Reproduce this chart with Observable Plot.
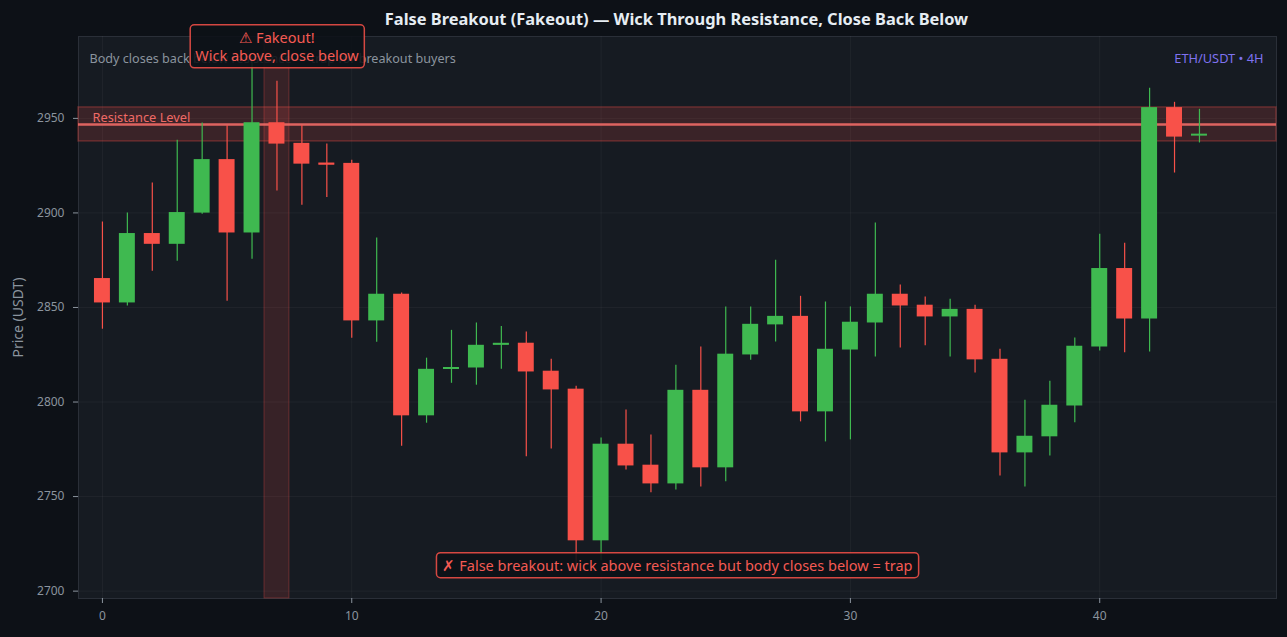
<!DOCTYPE html>
<html>
<head>
<meta charset="utf-8">
<script src="https://cdn.jsdelivr.net/npm/d3@7"></script>
<script src="https://cdn.jsdelivr.net/npm/@observablehq/plot@0.6"></script>
<style>
html, body { margin: 0; padding: 0; background: #0d1117; }
#wrap { position: relative; width: 1287px; height: 637px; overflow: hidden; font-family: "Noto Sans", sans-serif; }
#title { position: absolute; left: 78px; width: 1197px; top: 7px; line-height: 24px; text-align: center; color: #e6edf3; font-size: 16.4px; font-weight: bold; z-index: 2; }
#chart { position: absolute; left: 0; top: 0; }
</style>
</head>
<body>
<div id="wrap">
  <div id="title">False Breakout (Fakeout) — Wick Through Resistance, Close Back Below</div>
  <div id="chart"></div>
</div>
<script>
// ---- Data ----
const opens  = [2865.3, 2852.4, 2889.1, 2883.4, 2899.9, 2928.2, 2889.4, 2947.7, 2936.8, 2926.3,
                2926.2, 2842.9, 2857.0, 2792.7, 2817.2, 2818.0, 2830.2, 2831.1, 2816.3, 2806.8,
                2726.6, 2777.7, 2766.6, 2756.7, 2806.2, 2765.2, 2824.9, 2840.8, 2845.3, 2794.8,
                2827.5, 2841.8, 2857.0, 2851.2, 2845.0, 2849.0, 2822.6, 2773.1, 2781.6, 2797.9,
                2829.1, 2870.6, 2843.9, 2955.7, 2941.0];
const highs  = [2895.2, 2899.9, 2915.8, 2938.4, 2947.5, 2946.3, 2980.0, 2969.6, 2946.3, 2936.4,
                2927.8, 2886.7, 2857.7, 2823.2, 2837.9, 2841.8, 2840.0, 2837.0, 2822.6, 2808.4,
                2781.0, 2795.8, 2782.5, 2819.4, 2829.1, 2850.3, 2850.3, 2875.0, 2855.9, 2852.9,
                2850.3, 2894.7, 2861.9, 2855.6, 2854.3, 2851.2, 2827.9, 2801.0, 2811.0, 2833.9,
                2888.7, 2883.9, 2965.9, 2958.5, 2954.8];
const lows   = [2838.5, 2850.8, 2869.1, 2874.4, 2899.3, 2853.3, 2875.5, 2911.6, 2904.0, 2908.2,
                2833.7, 2831.6, 2776.6, 2788.8, 2809.9, 2808.9, 2817.3, 2771.0, 2775.1, 2709.5,
                2716.0, 2764.0, 2752.0, 2753.5, 2755.1, 2757.8, 2822.1, 2831.8, 2789.5, 2778.9,
                2780.0, 2823.8, 2828.6, 2829.7, 2823.8, 2815.4, 2760.9, 2755.1, 2771.4, 2789.0,
                2827.0, 2826.0, 2826.5, 2921.1, 2937.0];
const closes = [2852.4, 2889.1, 2883.4, 2900.2, 2928.2, 2889.4, 2947.7, 2936.4, 2925.8, 2926.0,
                2842.9, 2857.0, 2792.7, 2817.3, 2818.0, 2830.0, 2830.8, 2815.9, 2806.4, 2726.6,
                2777.7, 2766.2, 2756.7, 2806.2, 2765.2, 2825.3, 2841.1, 2845.3, 2794.8, 2827.9,
                2842.2, 2857.0, 2850.8, 2845.0, 2849.0, 2822.3, 2773.1, 2781.9, 2798.3, 2829.5,
                2870.6, 2843.9, 2955.7, 2940.1, 2941.4];

const resistance = 2946.8;
const zoneLow = 2937.8;
const zoneHigh = 2955.8;
const fakeoutIndex = 7;

const xTicks = [0, 10, 20, 30, 40];
const yTicks = [2700, 2750, 2800, 2850, 2900, 2950];

const subtitle = "Body closes back below resistance — trap for breakout buyers";
const pairLabel = "ETH/USDT • 4H";
const fakeoutNote = "⚠ Fakeout!\nWick above, close below";
const trapNote = "✗ False breakout: wick above resistance but body closes below = trap";
const resistanceLabel = "Resistance Level";
const yLabel = "Price (USDT)";

// ---- Build table ----
const GREEN = "#3fb950", RED = "#f85149";
const candles = opens.map((o, i) => ({
  i, open: o, high: highs[i], low: lows[i], close: closes[i],
  color: closes[i] >= o ? GREEN : RED
}));
const dojis = candles.filter(d => Math.abs(d.close - d.open) < 1.2);
const halfBody = 0.32;

const chart = Plot.plot({
  width: 1287,
  height: 637,
  marginTop: 36,
  marginLeft: 78,
  marginRight: 11,
  marginBottom: 39,
  style: { background: "transparent", color: "#8b949e", fontFamily: "Noto Sans, sans-serif", fontSize: "12px" },
  x: { domain: [-0.96, 47.09] },
  y: { domain: [2696.1, 2993.3] },
  marks: [
    Plot.frame({ fill: "#161b22", stroke: "#2a2f38" }),
    Plot.gridY(yTicks, { stroke: "#ffffff", strokeOpacity: 0.045 }),
    Plot.gridX(xTicks, { stroke: "#ffffff", strokeOpacity: 0.045 }),
    Plot.rect([{ lo: zoneLow, hi: zoneHigh }], {
      y1: "lo", y2: "hi", fill: RED, fillOpacity: 0.16, stroke: RED, strokeOpacity: 0.3, strokeWidth: 1.5
    }),
    Plot.rect([fakeoutIndex], {
      x1: d => d - 0.5, x2: d => d + 0.5, fill: RED, fillOpacity: 0.15, stroke: RED, strokeOpacity: 0.3
    }),
    Plot.ruleY([resistance], { stroke: "#f06a66", strokeWidth: 2.5, strokeOpacity: 0.9 }),
    Plot.text([resistanceLabel], {
      y: () => resistance, frameAnchor: "left", dx: 14, dy: -7, textAnchor: "start",
      fill: "#f06a66", fontSize: 12.8, lineAnchor: "middle"
    }),
    Plot.ruleX(candles, { x: "i", y1: "low", y2: "high", stroke: "color", strokeWidth: 1.2 }),
    Plot.rect(candles, {
      x1: d => d.i - halfBody, x2: d => d.i + halfBody, y1: "open", y2: "close", fill: "color"
    }),
    Plot.ruleY(dojis, {
      y: "close", x1: d => d.i - halfBody, x2: d => d.i + halfBody, stroke: "color", strokeWidth: 2
    }),
    Plot.text([subtitle], {
      frameAnchor: "top-left", dx: 11, dy: 22, textAnchor: "start", lineAnchor: "middle",
      fill: "#8b949e", fontSize: 12.6
    }),
    Plot.text([pairLabel], {
      frameAnchor: "top-right", dx: -13, dy: 22, textAnchor: "end", lineAnchor: "middle",
      fill: "#7f72f0", fontSize: 12.8
    }),
    Plot.text([yLabel], {
      frameAnchor: "left", dx: -60, rotate: -90, textAnchor: "middle", lineAnchor: "middle",
      fill: "#8b949e", fontSize: 14
    }),
    Plot.axisX({ ticks: xTicks, tickSize: 5, tickPadding: 8, label: null, stroke: "#8b949e", fill: "#8b949e", fontSize: 12 }),
    Plot.axisY({ ticks: yTicks, tickSize: 5, tickPadding: 9, label: null, tickFormat: d => String(d), stroke: "#8b949e", fill: "#8b949e", fontSize: 12 }),
    Plot.text([fakeoutNote], {
      x: () => fakeoutIndex, frameAnchor: "top", dy: 10, lineAnchor: "middle", lineHeight: 1.25,
      fill: "#f45a53", fontSize: 14.5, ariaLabel: () => "fakeout-note"
    }),
    Plot.text([trapNote], {
      frameAnchor: "bottom", dy: -32, lineAnchor: "middle",
      fill: "#f45a53", fontSize: 14.5, ariaLabel: () => "trap-note"
    })
  ]
});

document.getElementById("chart").appendChild(chart);

// Draw boxes behind the annotation texts
const NS = "http://www.w3.org/2000/svg";
for (const [label, padX, padY] of [["fakeout-note", 5, 2.5], ["trap-note", 6, 2.5]]) {
  chart.querySelectorAll(`text[aria-label="${label}"]`).forEach(t => {
    const b = t.getBBox();
    const r = document.createElementNS(NS, "rect");
    r.setAttribute("x", b.x - padX);
    r.setAttribute("y", b.y - padY);
    r.setAttribute("width", b.width + 2 * padX);
    r.setAttribute("height", b.height + 2 * padY);
    r.setAttribute("rx", 4);
    r.setAttribute("fill", "#0d1117");
    r.setAttribute("fill-opacity", 0.88);
    r.setAttribute("stroke", RED);
    r.setAttribute("stroke-opacity", 0.85);
    r.setAttribute("stroke-width", 1.5);
    const tr = t.getAttribute("transform");
    if (tr) r.setAttribute("transform", tr);
    t.parentNode.insertBefore(r, t);
  });
}
</script>
</body>
</html>
